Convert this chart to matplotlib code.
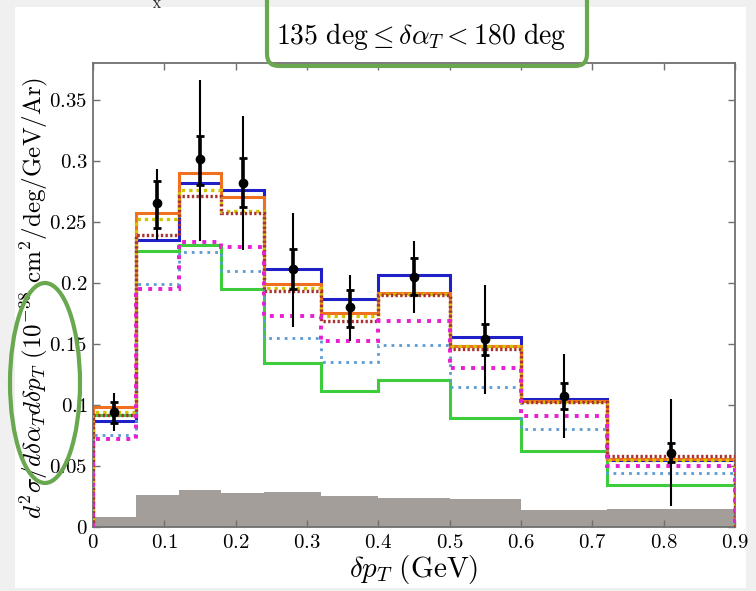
import matplotlib
matplotlib.use('Agg')
import matplotlib.pyplot as plt
from matplotlib.patches import FancyBboxPatch, Ellipse, Rectangle
from matplotlib.transforms import IdentityTransform
from matplotlib.ticker import FuncFormatter, MultipleLocator

plt.rcParams['mathtext.fontset'] = 'cm'
plt.rcParams['font.family'] = 'serif'
plt.rcParams['font.serif'] = ['DejaVu Serif']

# bin edges (GeV)
edges = [0, 0.06, 0.12, 0.18, 0.24, 0.32, 0.40, 0.50, 0.60, 0.72, 0.90]

# model predictions per bin
blue = [0.087, 0.235, 0.282, 0.276, 0.211, 0.187, 0.206, 0.156, 0.105, 0.055]
orange = [0.098, 0.257, 0.290, 0.270, 0.199, 0.175, 0.192, 0.148, 0.103, 0.056]
green = [0.092, 0.226, 0.231, 0.195, 0.134, 0.111, 0.120, 0.089, 0.062, 0.034]
yellow = [0.094, 0.252, 0.276, 0.259, 0.196, 0.173, 0.191, 0.148, 0.102, 0.055]
brown = [0.092, 0.239, 0.271, 0.257, 0.193, 0.169, 0.190, 0.146, 0.102, 0.058]
light_blue = [0.075, 0.199, 0.225, 0.210, 0.155, 0.135, 0.149, 0.115, 0.080, 0.044]
magenta = [0.072, 0.195, 0.233, 0.229, 0.173, 0.152, 0.169, 0.130, 0.091, 0.050]
gray_band = [0.008, 0.026, 0.030, 0.028, 0.029, 0.025, 0.024, 0.023, 0.014, 0.015]

# data points
data_x = [0.03, 0.09, 0.15, 0.21, 0.28, 0.36, 0.45, 0.55, 0.66, 0.81]
data_y = [0.094, 0.265, 0.301, 0.282, 0.211, 0.180, 0.205, 0.154, 0.107, 0.061]
inner_lo = [0.085, 0.245, 0.280, 0.262, 0.195, 0.164, 0.190, 0.141, 0.097, 0.053]
inner_hi = [0.102, 0.283, 0.320, 0.302, 0.228, 0.194, 0.220, 0.166, 0.118, 0.069]
outer_lo = [0.079, 0.235, 0.234, 0.227, 0.164, 0.152, 0.175, 0.109, 0.073, 0.017]
outer_hi = [0.110, 0.293, 0.366, 0.337, 0.257, 0.206, 0.234, 0.198, 0.142, 0.105]

W, H = 756, 591
fig = plt.figure(figsize=(W / 100, H / 100), dpi=100, facecolor='#f0f0f0')

# white slide panel
fig.add_artist(Rectangle((15, H - 588), 731, 581, transform=IdentityTransform(),
                         facecolor='white', edgecolor='none', zorder=0))

ax = fig.add_axes([93 / W, 1 - 527 / H, (735 - 93) / W, (527 - 63) / H])
ax.set_facecolor('white')

ax.stairs(gray_band, edges, fill=True, color='#a39e9a', zorder=1)

ax.stairs(blue, edges, color='#2020c8', lw=2.2, zorder=2)
ax.stairs(green, edges, color='#3ccc3c', lw=2.2, zorder=2)
ax.stairs(orange, edges, color='#f07020', lw=2.2, zorder=2)
ax.stairs(light_blue, edges, color='#5b9bd5', lw=2.0, ls=(0, (1, 1.8)), zorder=3)
ax.stairs(yellow, edges, color='#d0c400', lw=2.4, ls=(0, (1, 1.2)), zorder=3)
ax.stairs(brown, edges, color='#a83232', lw=2.4, ls=(0, (0.7, 0.7)), zorder=3)
ax.stairs(magenta, edges, color='#e81ed2', lw=2.8, ls=(0, (1, 1.6)), zorder=3)

# error bars: outer (total) and inner (stat)
outer_err = [[y - lo for y, lo in zip(data_y, outer_lo)], [hi - y for y, hi in zip(data_y, outer_hi)]]
inner_err = [[y - lo for y, lo in zip(data_y, inner_lo)], [hi - y for y, hi in zip(data_y, inner_hi)]]
ax.errorbar(data_x, data_y, yerr=outer_err, fmt='none', ecolor='black', elinewidth=1.5, zorder=5)
ax.errorbar(data_x, data_y, yerr=inner_err, fmt='o', color='black', ms=6,
            elinewidth=2.6, capsize=3, capthick=2, zorder=6)

ax.set_xlim(0, 0.9)
ax.set_ylim(0, 0.38)
ax.xaxis.set_major_locator(MultipleLocator(0.1))
ax.yaxis.set_major_locator(MultipleLocator(0.05))
fmt = FuncFormatter(lambda v, p: '$%g$' % round(v, 3))
ax.xaxis.set_major_formatter(fmt)
ax.yaxis.set_major_formatter(fmt)
ax.tick_params(direction='in', top=True, right=True, length=5, width=1,
               color='#707070', labelsize=15, pad=4)
for s in ax.spines.values():
    s.set_color('#707070')
    s.set_linewidth(1.3)

fig.text(414 / W, 1 - 570 / H, r'$\delta p_T\ (\mathrm{GeV})$', fontsize=21,
         ha='center', va='center')
fig.text(34 / W, 1 - 298 / H,
         r'$d^2\sigma/d\delta\alpha_T d\delta p_T\ (10^{-38}\ \mathrm{cm}^2/\mathrm{deg}/\mathrm{GeV}/\mathrm{Ar})$',
         fontsize=18, rotation=90, ha='center', va='center')
fig.text(421 / W, 1 - 37 / H, r'$135\ \mathrm{deg} \leq \delta\alpha_T < 180\ \mathrm{deg}$',
         fontsize=20, ha='center', va='center')
fig.text(157 / W, 1 - 0.5 / H, 'X', fontsize=8, ha='center', va='top', color='#222222')

# green highlight marks
fig.add_artist(FancyBboxPatch((267, H - 66), 320, 80, boxstyle='round,pad=0,rounding_size=12',
                              transform=IdentityTransform(), facecolor='none',
                              edgecolor='#6aa84f', lw=3, zorder=10))
fig.add_artist(Ellipse((45, H - 383), 70, 200, transform=IdentityTransform(),
                       facecolor='none', edgecolor='#6aa84f', lw=3, zorder=10))

fig.savefig('out.png', dpi=100, facecolor=fig.get_facecolor())
